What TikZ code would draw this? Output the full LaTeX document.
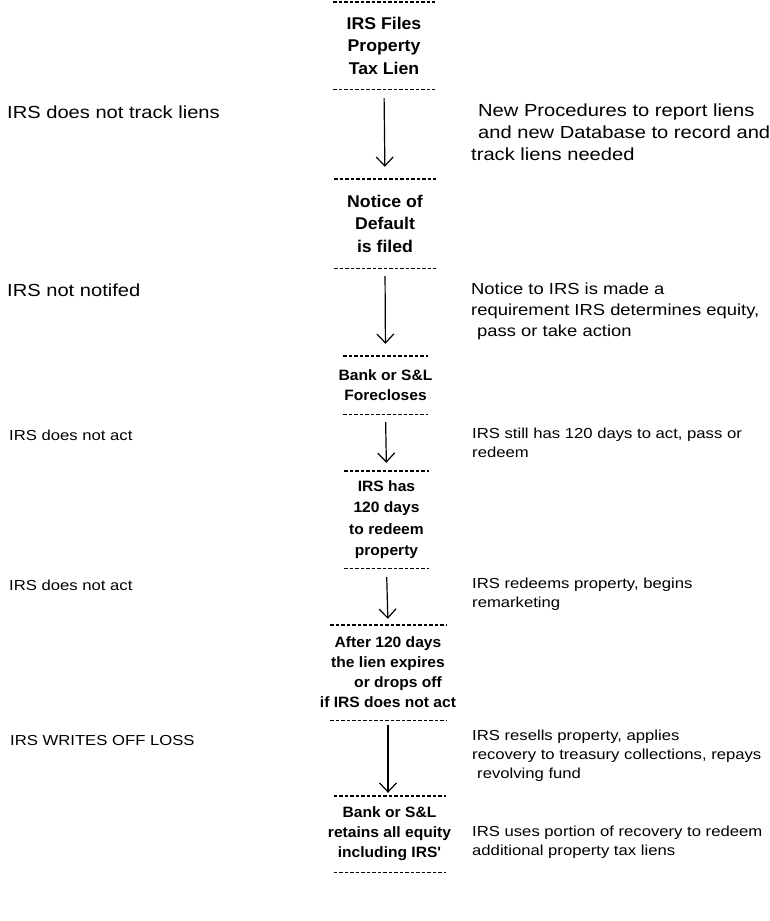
\documentclass[tikz,border=0pt]{standalone}
\usepackage{fontspec}
\newfontfamily\notefont[FakeStretch=1.15]{Liberation Sans}
\newfontfamily\stagefont[FakeStretch=1.04]{Liberation Sans}
\usetikzlibrary{arrows.meta}

\tikzset{
  stagebig/.style={align=center, inner sep=0pt, font=\stagefont\bfseries\fontsize{17}{22.5}\selectfont},
  stagesmall/.style={align=center, inner sep=0pt, font=\stagefont\bfseries\fontsize{15}{20}\selectfont},
  notebig/.style={align=left, inner sep=0pt, anchor=west, font=\notefont\fontsize{17.5}{22}\selectfont},
  notesmall/.style={align=left, inner sep=0pt, anchor=west, font=\notefont\fontsize{14.5}{19}\selectfont},
  rule/.style={line width=1.4pt, dash pattern=on 3.5pt off 2pt},
  flow/.style={line width=1.2pt, -{Straight Barb[length=9pt,width=17pt]}},
}

\begin{document}
\begin{tikzpicture}[x=1pt, y=-1pt]
  \useasboundingbox (0,0) rectangle (769,921);

  % --- Stages down the middle ---
  \node[stagebig, minimum height=87pt] (lien) at (384,45.5) {IRS Files\\Property\\Tax Lien};
  \node[stagebig, minimum height=89pt] (default) at (385,223.5) {Notice of\\Default\\is filed};
  \node[stagesmall, minimum height=58pt] (foreclose) at (385.5,385) {Bank or S\&L\\Forecloses};
  \node[stagesmall, minimum height=97pt, font=\stagefont\bfseries\fontsize{15}{21.5}\selectfont]
       (redeem) at (386.5,519.5) {IRS has\\120 days\\to redeem\\property};
  \node[stagesmall, minimum height=95pt] (expire) at (388,672.5)
       {After 120 days\\the lien expires\\\hspace*{20pt}or drops off\\if IRS does not act};
  \node[stagesmall, minimum height=76pt] (retain) at (389.5,834) {Bank or S\&L\\retains all equity\\including IRS'};

  % dashed rules above and below each stage
  \foreach \n/\w in {lien/51, default/51, foreclose/42.5, redeem/42.5, expire/58, retain/56}{
    \draw[rule] ([xshift=-\w pt]\n.north) -- ([xshift=\w pt]\n.north);
    \draw[rule] ([xshift=-\w pt]\n.south) -- ([xshift=\w pt]\n.south);
  }

  % arrows between stages
  \draw[flow, shorten <=9pt, shorten >=12pt] (lien.south) -- (default.north);
  \draw[flow, shorten <=8pt, shorten >=12pt] (default.south) -- (foreclose.north);
  \draw[flow, shorten <=8pt, shorten >=8pt] (foreclose.south) -- (redeem.north);
  \draw[flow, shorten <=9pt, shorten >=6pt] (redeem.south) -- (expire.north);
  \draw[flow, shorten <=5pt, shorten >=3pt] (expire.south) -- (expire.south |- retain.north);

  % --- Left column: what happens now ---
  \node[notebig] (untracked) at (7,112) {IRS does not track liens};
  \node[notebig] (unnotified) at (7,290) {IRS not notifed};
  \node[notesmall] (noact) at (9,435) {IRS does not act};
  \node[notesmall] (noactagain) at (9,585) {IRS does not act};
  \node[notesmall] (writeoff) at (10,740) {IRS WRITES OFF LOSS};

  % --- Right column: proposed changes ---
  \node[notebig] (database) at (471,132)
       {\hspace*{7pt}New Procedures to report liens\\\hspace*{7pt}and new Database to record and\\track liens needed};
  \node[notebig, font=\notefont\fontsize{16}{21}\selectfont] (notice) at (471,311)
       {Notice to IRS is made a\\requirement IRS determines equity,\\\hspace*{6pt}pass or take action};
  \node[notesmall] (stillhas) at (472,443) {IRS still has 120 days to act, pass or\\redeem};
  \node[notesmall] (remarket) at (472,594) {IRS redeems property, begins\\remarketing};
  \node[notesmall] (resell) at (472,756)
       {IRS resells property, applies\\recovery to treasury collections, repays\\\hspace*{5pt}revolving fund};
  \node[notesmall] (recycle) at (472,842) {IRS uses portion of recovery to redeem\\additional property tax liens};
\end{tikzpicture}
\end{document}
